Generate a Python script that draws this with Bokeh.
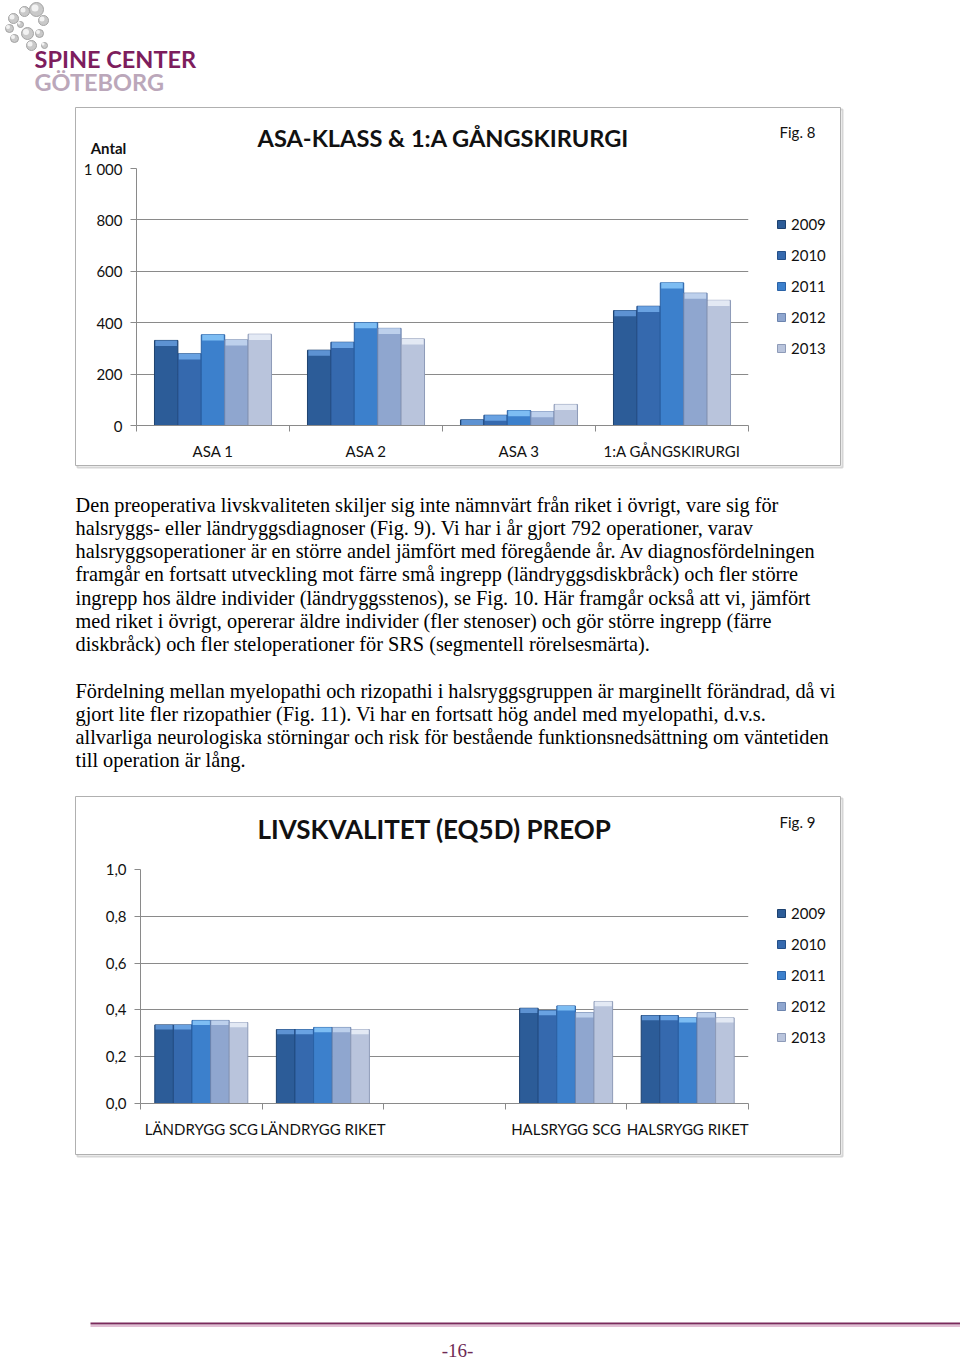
from bokeh.plotting import figure
from bokeh.models import Range1d, FixedTicker, Legend, LegendItem, ColumnDataSource
from bokeh.core.properties import value
from bokeh.embed import file_html
from bokeh.resources import INLINE

# ---------------- data ----------------
years = ["2009", "2010", "2011", "2012", "2013"]

asa_categories = ["ASA 1", "ASA 2", "ASA 3", "1:A GÅNGSKIRURGI"]
asa_2009 = [331, 293, 22, 447]
asa_2010 = [279, 324, 40, 464]
asa_2011 = [353, 400, 58, 555]
asa_2012 = [333, 378, 54, 515]
asa_2013 = [355, 337, 82, 487]
asa_ticks = [0, 200, 400, 600, 800, 1000]
asa_tick_labels = ["0", "200", "400", "600", "800", "1 000"]

eq_categories = ["LÄNDRYGG SCG", "LÄNDRYGG RIKET", "", "HALSRYGG SCG", "HALSRYGG RIKET"]
eq_2009 = [0.336, 0.316, None, 0.407, 0.376]
eq_2010 = [0.336, 0.316, None, 0.397, 0.376]
eq_2011 = [0.355, 0.325, None, 0.417, 0.366]
eq_2012 = [0.355, 0.325, None, 0.388, 0.388]
eq_2013 = [0.346, 0.316, None, 0.436, 0.366]
eq_ticks = [0, 0.2, 0.4, 0.6, 0.8, 1.0]
eq_tick_labels = ["0,0", "0,2", "0,4", "0,6", "0,8", "1,0"]

chart1_title = "ASA-KLASS & 1:A GÅNGSKIRURGI"
chart1_fig = "Fig. 8"
chart1_unit = "Antal"
chart2_title = "LIVSKVALITET (EQ5D) PREOP"
chart2_fig = "Fig. 9"

para1 = [
    "Den preoperativa livskvaliteten skiljer sig inte nämnvärt från riket i övrigt, vare sig för",
    "halsryggs- eller ländryggsdiagnoser (Fig. 9). Vi har i år gjort 792 operationer, varav",
    "halsryggsoperationer är en större andel jämfört med föregående år. Av diagnosfördelningen",
    "framgår en fortsatt utveckling mot färre små ingrepp (ländryggsdiskbråck) och fler större",
    "ingrepp hos äldre individer (ländryggsstenos), se Fig. 10. Här framgår också att vi, jämfört",
    "med riket i övrigt, opererar äldre individer (fler stenoser) och gör större ingrepp (färre",
    "diskbråck) och fler steloperationer för SRS (segmentell rörelsesmärta).",
]
para2 = [
    "Fördelning mellan myelopathi och rizopathi i halsryggsgruppen är marginellt förändrad, då vi",
    "gjort lite fler rizopathier (Fig. 11). Vi har en fortsatt hög andel med myelopathi, d.v.s.",
    "allvarliga neurologiska störningar och risk för bestående funktionsnedsättning om väntetiden",
    "till operation är lång.",
]
page_number = "-16-"

# ---------------- styles ----------------
FILLS = ["#2c5c98", "#3569ae", "#3c80cc", "#8fa6cf", "#b9c4dc"]
EDGES = ["#1d416f", "#244f88", "#2a62a6", "#6c84ae", "#8e9bb8"]
CAPS = ["#5d92d2", "#69a2e2", "#7dbdf3", "#bdd0ec", "#e3e9f4"]
SANS = "Lato"
SERIF = "Liberation Serif"

# ---------------- page background figure ----------------
page = figure(width=960, height=1360, x_range=Range1d(0, 960), y_range=Range1d(1360, 0),
              output_backend="svg", toolbar_location=None, min_border=0,
              x_axis_location=None, y_axis_location=None)
page.xgrid.visible = False
page.ygrid.visible = False
page.outline_line_color = None

# logo
blob_x = [36, 24, 43, 13, 9, 14, 27, 39, 31, 44, 20]
blob_y = [9, 11, 20, 18, 28, 38, 33, 33, 45, 45, 24]
blob_r = [7, 5, 5, 5, 4, 4, 6, 4, 5, 3, 3]
page.circle(x=blob_x, y=blob_y, radius=blob_r, fill_color="#c9c9c9", line_color="#a4a4a4",
            line_width=1)
page.circle(x=[b - 1.5 for b in blob_x], y=[b - 1.5 for b in blob_y],
            radius=[r * 0.5 for r in blob_r], fill_color="#f2f2f2", line_color=None)
page.text(x=[34], y=[58], text=["SPINE CENTER"], text_font=value(SANS), text_font_size="23.5px",
          text_font_style="bold", text_color="#7d1d5d", text_baseline="middle")
page.text(x=[34], y=[81], text=["GÖTEBORG"], text_font=value(SANS), text_font_size="23.5px",
          text_font_style="bold", text_color="#bba7ba", text_baseline="middle")

# chart boxes (shadow + frame)
page.quad(left=[77, 77], right=[842, 842], top=[109, 798], bottom=[467, 1156],
          fill_color=None, line_color="#d6d6d6", line_width=2)
page.quad(left=[75, 75], right=[840, 840], top=[107, 796], bottom=[465, 1154],
          fill_color="#ffffff", line_color="#b0b0b0", line_width=1)

# chart titles and notes
page.text(x=[257], y=[137], text=[chart1_title], text_font=value(SANS),
          text_font_size="23.6px", text_font_style="bold", text_color="#111111",
          text_baseline="middle")
page.text(x=[257], y=[828], text=[chart2_title], text_font=value(SANS),
          text_font_size="26px", text_font_style="bold", text_color="#111111",
          text_baseline="middle")
page.text(x=[797, 797], y=[131, 821], text=[chart1_fig, chart2_fig], text_font=value(SANS),
          text_font_size="15px", text_color="#111111", text_baseline="middle", text_align="center")
page.text(x=[108], y=[147], text=[chart1_unit], text_font=value(SANS), text_font_size="15px",
          text_font_style="bold", text_color="#111111", text_baseline="middle", text_align="center")

# body text
step = 23.3
ys = [504 + i * step for i in range(len(para1))] + [690 + i * step for i in range(len(para2))]
page.text(x=[75] * len(ys), y=ys, text=para1 + para2, text_font=value(SERIF),
          text_font_size="20.3px", text_color="#000000", text_baseline="middle")

# footer
page.segment(x0=[90], y0=[1323], x1=[960], y1=[1323], line_color="#7a2a5c", line_width=2)
page.segment(x0=[90], y0=[1325.5], x1=[960], y1=[1325.5], line_color="#d9a8c6", line_width=1.5)
page.text(x=[457], y=[1350], text=[page_number], text_font=value(SERIF), text_font_size="19px",
          text_color="#6e2a55", text_baseline="middle", text_align="center")


# ---------------- charts ----------------
def make_chart(cats, series, ymax, ticks, tick_labels, left, top, bl, bt, fw, fh, bb, cap, leg_y):
    n = len(cats)
    p = figure(frame_width=fw, frame_height=fh, x_range=Range1d(0, n), y_range=Range1d(0, ymax),
               output_backend="svg", toolbar_location=None,
               min_border_left=bl, min_border_right=90, min_border_top=bt, min_border_bottom=bb)
    p.styles = {"position": "absolute", "left": f"{left}px", "top": f"{top}px"}
    p.border_fill_alpha = 0
    p.background_fill_alpha = 0
    p.outline_line_color = None
    p.xgrid.visible = False
    p.ygrid.grid_line_color = "#8a8a8a"
    p.ygrid.grid_line_width = 1
    p.ygrid.ticker = FixedTicker(ticks=ticks)

    ya = p.yaxis[0]
    ya.ticker = FixedTicker(ticks=ticks)
    ya.major_label_overrides = {t: l for t, l in zip(ticks, tick_labels)}
    ya.axis_line_color = "#8a8a8a"
    ya.major_tick_line_color = "#8a8a8a"
    ya.major_tick_out = 6
    ya.major_tick_in = 0
    ya.minor_tick_line_color = None
    ya.major_label_standoff = 8
    ya.major_label_text_font = SANS
    ya.major_label_text_font_size = "15px"
    ya.major_label_text_color = "#111111"

    xa = p.xaxis[0]
    centers = [i + 0.5 for i in range(n)]
    xa.ticker = FixedTicker(ticks=centers, minor_ticks=list(range(n + 1)))
    xa.major_label_overrides = {c: l for c, l in zip(centers, cats)}
    xa.axis_line_color = "#8a8a8a"
    xa.major_tick_line_color = None
    xa.major_tick_out = 0
    xa.major_tick_in = 0
    xa.minor_tick_line_color = "#8a8a8a"
    xa.minor_tick_out = 6
    xa.minor_tick_in = 0
    xa.major_label_standoff = 10
    xa.major_label_text_font = SANS
    xa.major_label_text_font_size = "15px"
    xa.major_label_text_color = "#111111"

    w = 0.153
    items = []
    for i, (yr, vals) in enumerate(zip(years, series)):
        xs = [c + (i - 2) * w for c, v in zip(centers, vals) if v is not None]
        tops = [v for v in vals if v is not None]
        src = ColumnDataSource(dict(x=xs, top=tops, capb=[t - cap for t in tops]))
        r = p.vbar(x="x", width=w, top="top", bottom=0, source=src,
                   fill_color=FILLS[i], line_color=EDGES[i], line_width=1)
        p.vbar(x="x", width=w * 0.92, top="top", bottom="capb", source=src,
               fill_color=CAPS[i], line_color=None)
        items.append(LegendItem(label=yr, renderers=[r]))

    leg = Legend(items=items, location=(28, leg_y), glyph_width=10, glyph_height=10,
                 label_height=20, spacing=11, padding=0, margin=0, label_standoff=5,
                 label_text_font=SANS, label_text_font_size="15px",
                 label_text_color="#111111", border_line_color=None,
                 background_fill_alpha=0)
    p.add_layout(leg, "right")
    return p


chart1 = make_chart(asa_categories, [asa_2009, asa_2010, asa_2011, asa_2012, asa_2013],
                    1000, asa_ticks, asa_tick_labels, left=76, top=150,
                    bl=60, bt=18, fw=612, fh=257, bb=38, cap=22, leg_y=67)

chart2 = make_chart(eq_categories, [eq_2009, eq_2010, eq_2011, eq_2012, eq_2013],
                    1.0, eq_ticks, eq_tick_labels, left=76, top=850,
                    bl=64, bt=19, fw=608, fh=234, bb=48, cap=0.02, leg_y=56)

open("out.html", "w").write(file_html([page, chart1, chart2], INLINE))
